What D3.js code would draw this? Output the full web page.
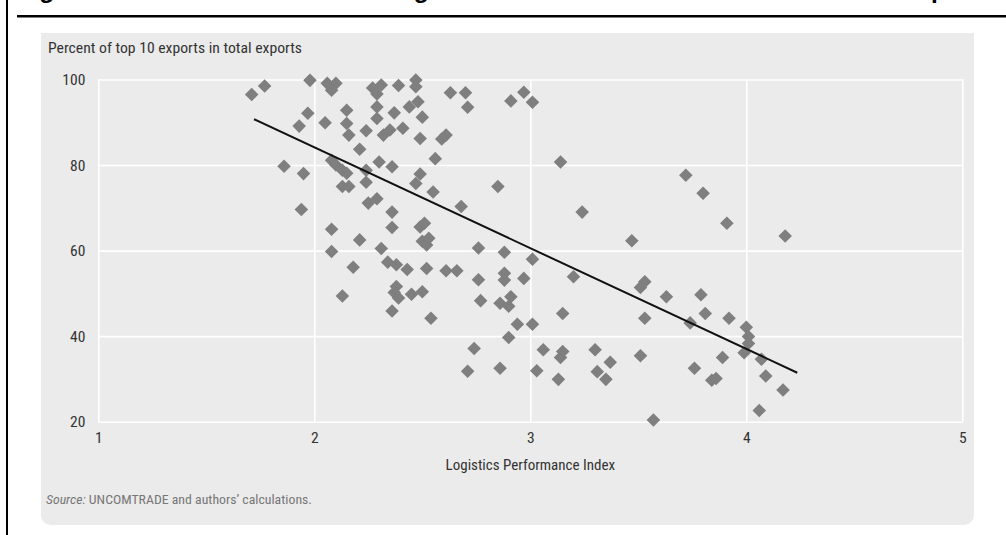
<!DOCTYPE html>
<html><head><meta charset="utf-8">
<script src="https://cdn.jsdelivr.net/npm/d3@7/dist/d3.min.js"></script>
<style>
html,body{margin:0;padding:0;background:#fff;}
svg{display:block;}
.nar{font-family:"Liberation Sans Narrow","Roboto Condensed","Arial Narrow",sans-serif;font-stretch:condensed;}
</style></head>
<body><svg id="c" width="1006" height="535"></svg>
<script>
const titleText = "Figure 4.2 Countries with better logistics have less concentrated baskets of exports";
const yTitle = "Percent of top 10 exports in total exports";
const xTitle = "Logistics Performance Index";
const xTicks = [1, 2, 3, 4, 5];
const yTicks = [20, 40, 60, 80, 100];
const lpi = [1.71,1.77,1.98,2.06,2.10,2.08,1.97,1.93,2.05,2.15,2.15,2.16,2.24,2.21,1.86,1.95,2.08,2.10,2.13,2.15,2.13,2.16,2.24,2.24,2.30,2.36,2.29,2.29,2.27,2.31,2.29,2.32,2.35,2.37,2.39,2.41,2.44,2.48,2.47,2.47,2.50,2.49,2.63,2.70,2.71,2.91,2.97,3.01,2.61,2.59,2.56,2.49,2.47,2.55,2.85,3.14,
1.94,2.25,2.29,2.36,2.36,2.08,2.21,2.08,2.31,2.18,2.34,2.38,2.43,2.13,2.38,2.37,2.39,2.45,2.50,2.36,2.54,2.68,2.49,2.51,2.50,2.53,2.52,2.52,2.61,2.66,2.76,2.88,3.01,2.88,2.88,2.97,2.76,2.77,2.86,2.91,2.90,
3.24,3.72,3.80,3.91,4.18,3.47,3.20,3.53,3.51,3.63,3.79,3.15,3.81,3.53,3.92,3.74,2.94,3.01,4.00,4.01,4.01,3.99,4.07,2.90,2.74,3.06,3.30,3.15,3.14,3.51,3.89,3.37,2.71,2.86,3.03,3.13,3.31,3.35,3.76,3.84,3.86,4.09,4.17,4.06,3.57];
const share = [96.5,98.5,99.8,99.1,99.1,97.5,92.1,89.1,89.9,92.8,89.7,87.0,88.0,83.7,79.7,78.0,81.1,80.0,78.8,78.1,75.0,75.0,78.8,76.0,80.7,79.6,93.6,90.9,98.0,98.7,96.6,87.0,88.2,92.2,98.6,88.6,93.6,94.8,99.9,98.3,91.2,86.2,96.9,96.9,93.5,95.0,97.0,94.7,87.0,86.1,81.5,77.9,75.7,73.7,75.0,80.7,
69.6,71.1,72.1,69.0,65.4,65.0,62.5,59.8,60.5,56.1,57.3,56.7,55.6,49.4,51.6,50.2,48.9,49.8,50.4,45.9,44.2,70.3,65.5,66.4,62.2,62.9,61.3,55.8,55.3,55.3,60.6,59.6,58.0,54.7,53.1,53.5,53.2,48.3,47.7,49.2,47.0,
69.0,77.6,73.4,66.4,63.4,62.3,53.9,52.7,51.4,49.2,49.7,45.3,45.3,44.2,44.2,43.1,42.8,42.8,42.1,39.9,38.3,36.1,34.6,39.7,37.1,36.8,36.8,36.4,35.0,35.4,35.0,33.9,31.8,32.5,31.9,29.9,31.7,29.9,32.5,29.7,30.1,30.7,27.4,22.6,20.4];
const trendLpi = [1.721, 4.236];
const trendShare = [90.7, 31.45];

const svg = d3.select("#c");
const x = d3.scaleLinear().domain([1, 5]).range([98.3, 962.3]);
const y = d3.scaleLinear().domain([20, 100]).range([421.7, 79.5]);

// frame lines and cut-off title
svg.append("text").attr("x", 17.5).attr("y", -2.2)
  .attr("font-family", "Liberation Sans, Arial, sans-serif").attr("font-weight", "bold")
  .attr("font-size", 24.5).attr("fill", "#000").text(titleText);
svg.append("rect").attr("x", 6).attr("y", 0).attr("width", 2).attr("height", 535).attr("fill", "#000");
svg.append("rect").attr("x", 17).attr("y", 15).attr("width", 989).attr("height", 2.5).attr("fill", "#000");

// panel
svg.append("rect").attr("x", 41).attr("y", 33).attr("width", 933).attr("height", 492)
  .attr("rx", 10).attr("fill", "#ebebeb");
svg.append("rect").attr("x", 41).attr("y", 33).attr("width", 933).attr("height", 20).attr("fill", "#ebebeb");

// grid via axes
const gx = svg.append("g").attr("transform", `translate(0,${y(20)})`)
  .call(d3.axisBottom(x).tickValues(xTicks).tickFormat(d3.format("d")).tickSize(-(y(20) - y(100))).tickPadding(10));
const gy = svg.append("g").attr("transform", `translate(${x(1)},0)`)
  .call(d3.axisLeft(y).tickValues(yTicks).tickFormat(d3.format("d")).tickSize(-(x(5) - x(1))).tickPadding(13));
[gx, gy].forEach(g => {
  g.select(".domain").remove();
  g.selectAll(".tick line").attr("stroke", "#fff").attr("stroke-width", 1.6);
  g.selectAll(".tick text").attr("class", "nar").attr("font-size", 15.5).attr("fill", "#333");
});
gy.selectAll(".tick text").attr("dy", "0.32em");

// points
const sym = d3.symbol().type(d3.symbolSquare).size(92);
svg.append("g").selectAll("path").data(lpi.map((v, i) => [v, share[i]])).join("path")
  .attr("d", sym).attr("fill", "#7f7f7f")
  .attr("transform", d => `translate(${x(d[0])},${y(d[1])}) rotate(45)`);

// trend line
svg.append("path").datum(trendLpi.map((v, i) => [v, trendShare[i]]))
  .attr("d", d3.line().x(d => x(d[0])).y(d => y(d[1])))
  .attr("stroke", "#111").attr("stroke-width", 2).attr("fill", "none");

// titles
svg.append("text").attr("class", "nar").attr("x", 48).attr("y", 53).attr("font-size", 14.5)
  .attr("textLength", 254).attr("lengthAdjust", "spacingAndGlyphs")
  .attr("fill", "#333").text(yTitle);
svg.append("text").attr("class", "nar").attr("x", x(3)).attr("y", 470).attr("text-anchor", "middle")
  .attr("font-size", 15).attr("fill", "#333").text(xTitle);
const src = svg.append("text").attr("class", "nar").attr("x", 46).attr("y", 504).attr("font-size", 12.5)
  .attr("textLength", 266).attr("lengthAdjust", "spacingAndGlyphs").attr("fill", "#777");
src.append("tspan").attr("font-style", "italic").text("Source:");
src.append("tspan").text(" UNCOMTRADE and authors\u2019 calculations.");
</script></body></html>
